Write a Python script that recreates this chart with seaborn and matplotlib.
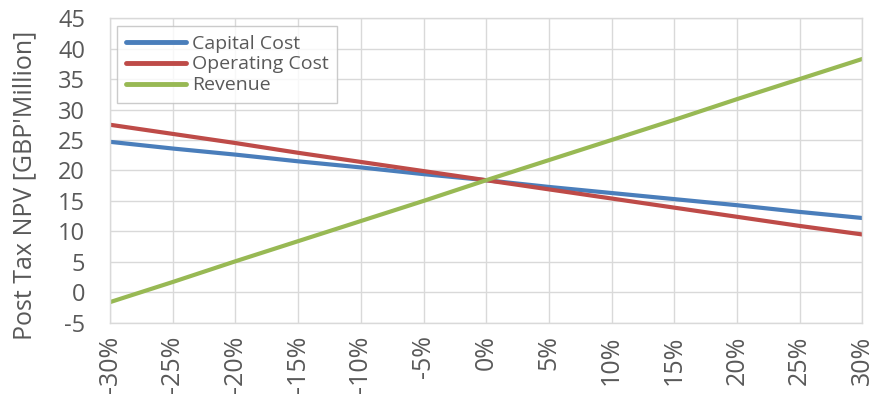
import matplotlib
matplotlib.use("Agg")
import matplotlib.pyplot as plt
import seaborn as sns
import pandas as pd

changes = [-30, -25, -20, -15, -10, -5, 0, 5, 10, 15, 20, 25, 30]
tick_labels = ["-30%", "-25%", "-20%", "-15%", "-10%", "-5%", "0%", "5%", "10%", "15%", "20%", "25%", "30%"]
capital_cost = [24.7, 23.6, 22.6, 21.5, 20.5, 19.4, 18.4, 17.3, 16.3, 15.3, 14.3, 13.2, 12.2]
operating_cost = [27.5, 26.0, 24.5, 22.9, 21.4, 19.9, 18.4, 16.9, 15.4, 13.9, 12.4, 10.9, 9.5]
revenue = [-1.6, 1.7, 5.1, 8.4, 11.7, 15.0, 18.4, 21.7, 25.0, 28.3, 31.7, 35.0, 38.3]
series_names = ["Capital Cost", "Operating Cost", "Revenue"]
colors = ["#4A7EBB", "#BE4B48", "#98B954"]

df = pd.concat([
    pd.DataFrame({"change": changes, "npv": vals, "series": name})
    for name, vals in zip(series_names, [capital_cost, operating_cost, revenue])
])

sns.set_theme(style="white")
plt.rcParams["font.family"] = ["Open Sans", "DejaVu Sans"]

fig = plt.figure(figsize=(8.88, 4.03), dpi=100)
ax = fig.add_axes([0.124, 0.199, 0.847, 0.756])

sns.lineplot(data=df, x="change", y="npv", hue="series", hue_order=series_names,
             palette=colors, linewidth=3, ax=ax, legend=True)

ax.set_xlim(-30, 30)
ax.set_ylim(-5, 45)
ax.set_xticks(changes)
ax.set_xticklabels(tick_labels, rotation=90, fontsize=18, color="#595959")
ax.set_yticks(range(-5, 50, 5))
ax.set_yticklabels([str(v) for v in range(-5, 50, 5)], fontsize=17, color="#595959")
ax.tick_params(axis="y", length=0, pad=18)
ax.tick_params(axis="x", length=0, pad=9)
ax.grid(True, color="#D9D9D9", linewidth=1)
for s in ax.spines.values():
    s.set_color("#D9D9D9")
    s.set_linewidth(1)
ax.set_xlabel("")
ax.set_ylabel("Post Tax NPV [GBP'Million]", fontsize=18, color="#595959")
ax.yaxis.set_label_coords(-0.097, 0.45)

leg = ax.legend(loc="upper left", bbox_to_anchor=(0.009, 0.975), borderaxespad=0,
                fontsize=14, frameon=True, fancybox=False, handlelength=3.1,
                handletextpad=0.3, borderpad=0.45, labelspacing=0.15)
leg.get_frame().set_edgecolor("#BFBFBF")
leg.get_frame().set_linewidth(1)
for t in leg.get_texts():
    t.set_color("#595959")
for line in leg.get_lines():
    line.set_linewidth(3.5)

fig.savefig("out.png", dpi=100)
